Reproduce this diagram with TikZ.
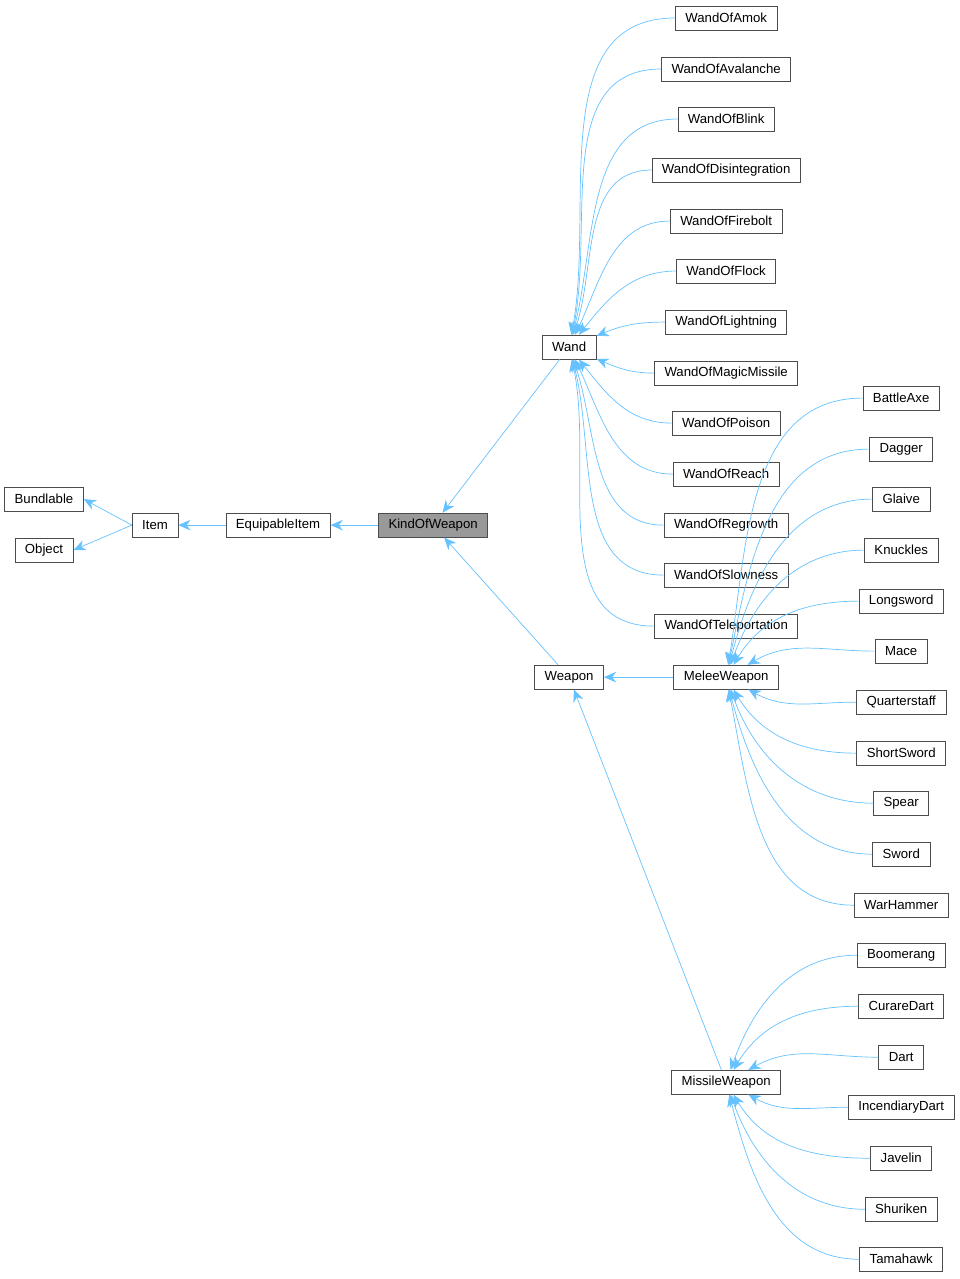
\documentclass[tikz,border=0pt]{standalone}
\usepackage{fontspec}
\setmainfont{Liberation Sans}
\usetikzlibrary{arrows.meta}
\tikzset{
    cls/.style={draw=black!70,fill=white,font=\fontsize{7.5}{9}\selectfont,
        minimum height=0.48cm,inner xsep=0.2cm,inner ysep=0pt},
    inh/.style={draw=blue!40!cyan!60!white,thin,-{Stealth[length=7pt,width=6pt]}},
}
\newcommand\ClassAt[4]{% name, x, y, text (pixel units)
    \node[cls] (#1) at ({#2*0.02},{-#3*0.02}) {#4};
}
\begin{document}
\begin{tikzpicture}
    \useasboundingbox (0,0) rectangle (19.2,-25.58);
    \ClassAt{Bundlable}{44}{499}{Bundlable}
    \ClassAt{Object}{44}{550}{Object}
    \ClassAt{Item}{155}{525}{Item}
    \ClassAt{EquipableItem}{278}{525}{EquipableItem}
    \node[cls,fill=black!40] (KindOfWeapon) at ({433*0.02},{-525*0.02}) {KindOfWeapon};
    \ClassAt{Wand}{569}{347}{Wand}
    \ClassAt{Weapon}{569}{677}{Weapon}
    \ClassAt{MeleeWeapon}{726}{677}{MeleeWeapon}
    \ClassAt{MissileWeapon}{726}{1082}{MissileWeapon}
    % base chain
    \draw[inh] (Item.west) -- (Bundlable.east);
    \draw[inh] (Item.west) -- (Object.east);
    \draw[inh] (EquipableItem) -- (Item);
    \draw[inh] (KindOfWeapon) -- (EquipableItem);
    \draw[inh] (Wand) -- (KindOfWeapon);
    \draw[inh] (Weapon) -- (KindOfWeapon);
    \draw[inh] (MeleeWeapon) -- (Weapon);
    \draw[inh] (MissileWeapon) -- (Weapon);
    % wands
    \foreach \n/\y in {Amok/18,Avalanche/69,Blink/119,Disintegration/170,Firebolt/221,
        Flock/271,Lightning/322,MagicMissile/373,Poison/423,Reach/474,Regrowth/525,
        Slowness/575,Teleportation/626} {
        \ClassAt{WandOf\n}{726}{\y}{WandOf\n}
        \pgfmathsetmacro\ang{atan2(347-\y,60)}
        \draw[inh] (WandOf\n.west) to[out=180,in=\ang] (Wand);
    }
    % melee
    \foreach \n/\y in {BattleAxe/398,Dagger/449,Glaive/499,Knuckles/550,Longsword/601,
        Mace/651,Quarterstaff/702,ShortSword/753,Spear/803,Sword/854,WarHammer/905} {
        \ClassAt{\n}{901}{\y}{\n}
        \pgfmathsetmacro\ang{atan2(677-\y,45)}
        \draw[inh] (\n.west) to[out=180,in=\ang] (MeleeWeapon);
    }
    % missile
    \foreach \n/\y in {Boomerang/955,CurareDart/1006,Dart/1057,IncendiaryDart/1107,
        Javelin/1158,Shuriken/1209,Tamahawk/1259} {
        \ClassAt{\n}{901}{\y}{\n}
        \pgfmathsetmacro\ang{atan2(1082-\y,45)}
        \draw[inh] (\n.west) to[out=180,in=\ang] (MissileWeapon);
    }
\end{tikzpicture}
\end{document}
